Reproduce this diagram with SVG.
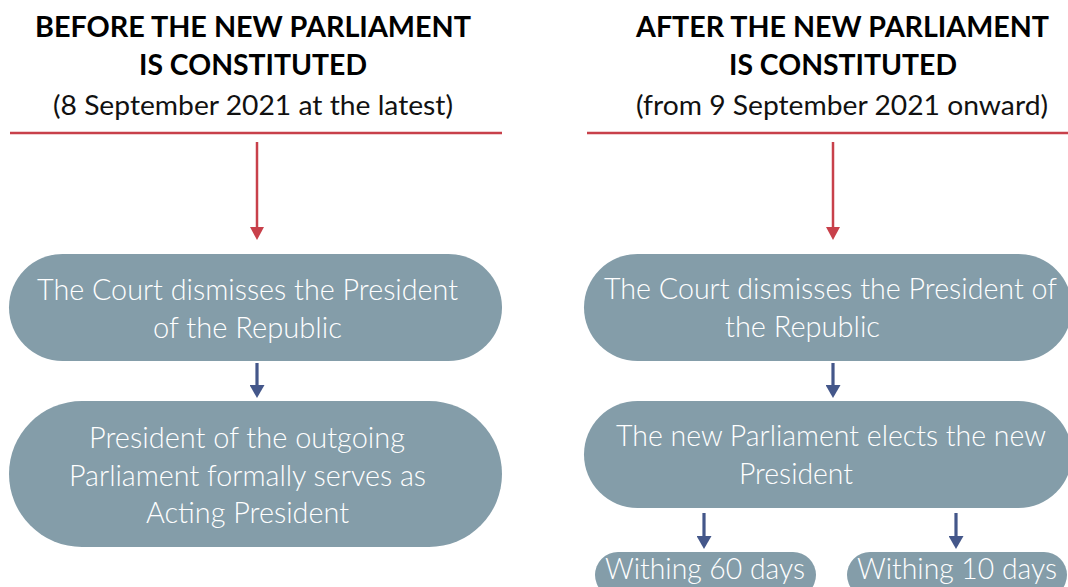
<svg xmlns="http://www.w3.org/2000/svg" width="1068" height="587" viewBox="0 0 1068 587">
  <defs>
    <style>
      .head { font-family: Lato, "Liberation Sans", sans-serif; font-weight: 700; font-size: 29px; fill: #000; text-anchor: middle; }
      .sub { font-family: Lato, "Liberation Sans", sans-serif; font-weight: 400; font-size: 27px; fill: #111; text-anchor: middle; }
      .node { fill: #849DA9; }
      .label { font-family: Lato, "Liberation Sans", sans-serif; font-weight: 300; font-size: 29px; fill: #ffffff; }
      .rule { stroke: #C8404A; stroke-width: 2.7; fill: none; }
      .red { stroke: #C8404A; stroke-width: 2.5; fill: none; }
      .blue { stroke: #44578A; stroke-width: 3.2; fill: none; }
    </style>
    <marker id="headRed" markerUnits="userSpaceOnUse" markerWidth="14" markerHeight="14" refX="0" refY="7" orient="auto">
      <path d="M0,0 L13,7 L0,14 z" fill="#C8404A"/>
    </marker>
    <marker id="headBlue" markerUnits="userSpaceOnUse" markerWidth="14" markerHeight="15" refX="0" refY="7.5" orient="auto">
      <path d="M0,0 L13,7.5 L0,15 z" fill="#44578A"/>
    </marker>
  </defs>

  <rect width="1068" height="587" fill="#ffffff"/>

  <!-- column headings -->
  <g id="heading-before">
    <text class="head" x="253" y="37" textLength="436" lengthAdjust="spacingAndGlyphs">BEFORE THE NEW PARLIAMENT</text>
    <text class="head" x="253" y="75" textLength="228" lengthAdjust="spacingAndGlyphs">IS CONSTITUTED</text>
    <text class="sub" x="253" y="115" textLength="400" lengthAdjust="spacingAndGlyphs">(8 September 2021 at the latest)</text>
    <line class="rule" x1="10" y1="133" x2="502" y2="133"/>
  </g>
  <g id="heading-after">
    <text class="head" x="842.5" y="37" textLength="413" lengthAdjust="spacingAndGlyphs">AFTER THE NEW PARLIAMENT</text>
    <text class="head" x="843" y="75" textLength="228" lengthAdjust="spacingAndGlyphs">IS CONSTITUTED</text>
    <text class="sub" x="842" y="115" textLength="412" lengthAdjust="spacingAndGlyphs">(from 9 September 2021 onward)</text>
    <line class="rule" x1="587" y1="133" x2="1068" y2="133"/>
  </g>

  <!-- connectors -->
  <g id="connectors">
    <line class="red" x1="257" y1="142" x2="257" y2="227" marker-end="url(#headRed)"/>
    <line class="red" x1="833" y1="142" x2="833" y2="227" marker-end="url(#headRed)"/>
    <line class="blue" x1="257" y1="363" x2="257" y2="385" marker-end="url(#headBlue)"/>
    <line class="blue" x1="833" y1="363" x2="833" y2="385" marker-end="url(#headBlue)"/>
    <line class="blue" x1="704" y1="513" x2="704" y2="536" marker-end="url(#headBlue)"/>
    <line class="blue" x1="956" y1="513" x2="956" y2="536" marker-end="url(#headBlue)"/>
  </g>

  <!-- left column -->
  <g id="before-dismissal">
    <rect class="node" x="9" y="254" width="493" height="107" rx="53.5"/>
    <text class="label" x="37" y="300" textLength="421" lengthAdjust="spacingAndGlyphs">The Court dismisses the President</text>
    <text class="label" x="153" y="338" textLength="189" lengthAdjust="spacingAndGlyphs">of the Republic</text>
  </g>
  <g id="before-acting">
    <rect class="node" x="9" y="401" width="493" height="146" rx="73"/>
    <text class="label" x="89" y="448" textLength="316" lengthAdjust="spacingAndGlyphs">President of the outgoing</text>
    <text class="label" x="69" y="486" textLength="357" lengthAdjust="spacingAndGlyphs">Parliament formally serves as</text>
    <text class="label" x="146" y="523" textLength="203" lengthAdjust="spacingAndGlyphs">Acting President</text>
  </g>

  <!-- right column -->
  <g id="after-dismissal">
    <rect class="node" x="584" y="254" width="488" height="107" rx="53.5"/>
    <text class="label" x="604" y="299" textLength="453" lengthAdjust="spacingAndGlyphs">The Court dismisses the President of</text>
    <text class="label" x="725" y="337" textLength="155" lengthAdjust="spacingAndGlyphs">the Republic</text>
  </g>
  <g id="after-election">
    <rect class="node" x="584" y="401" width="488" height="107" rx="53.5"/>
    <text class="label" x="616" y="446" textLength="430" lengthAdjust="spacingAndGlyphs">The new Parliament elects the new</text>
    <text class="label" x="739" y="484" textLength="114" lengthAdjust="spacingAndGlyphs">President</text>
  </g>
  <g id="within-60">
    <rect class="node" x="595" y="552" width="221" height="46" rx="23"/>
    <text class="label" x="605" y="579" textLength="200" lengthAdjust="spacingAndGlyphs">Withing 60 days</text>
  </g>
  <g id="within-10">
    <rect class="node" x="847" y="552" width="220" height="46" rx="23"/>
    <text class="label" x="857" y="579" textLength="200" lengthAdjust="spacingAndGlyphs">Withing 10 days</text>
  </g>
</svg>
